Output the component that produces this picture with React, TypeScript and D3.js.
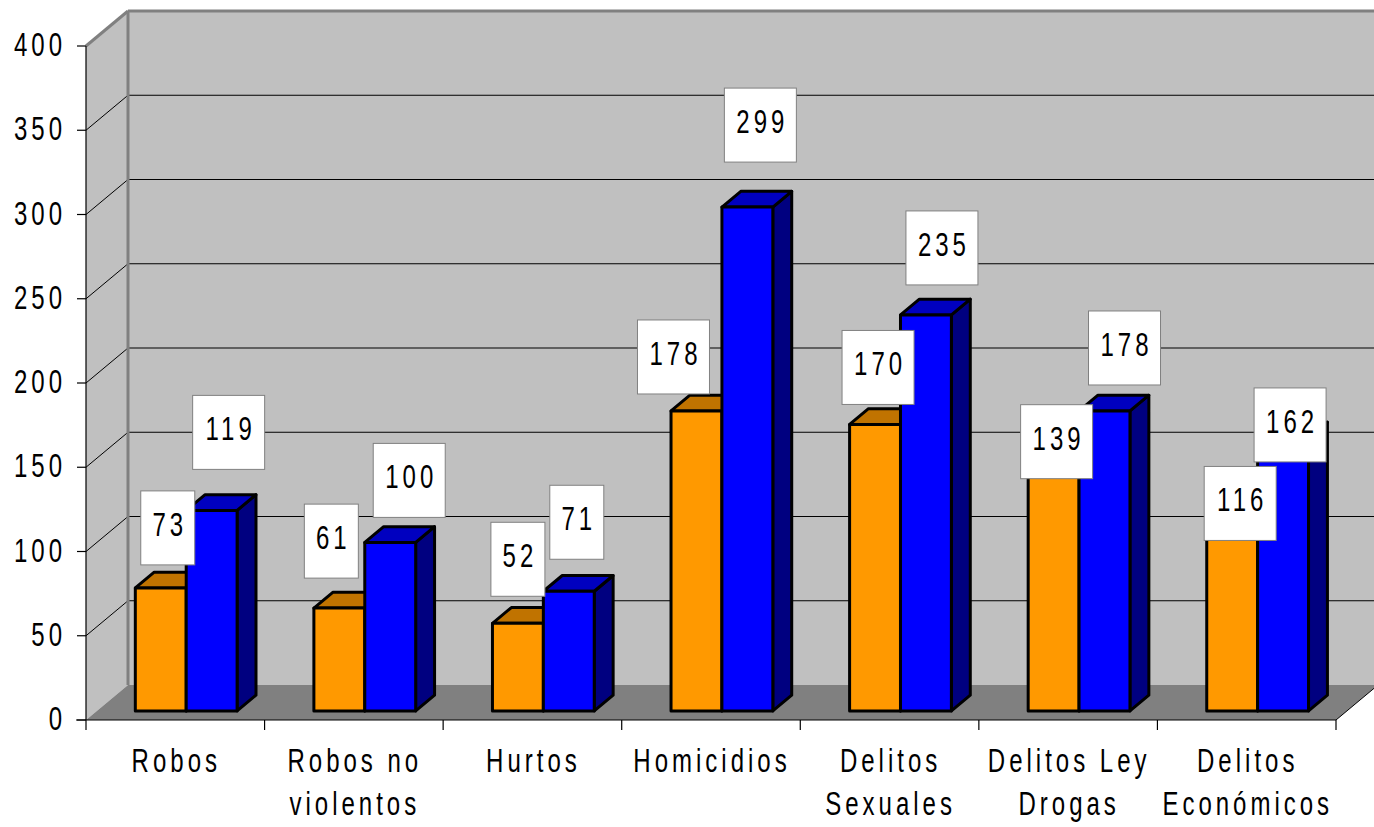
import * as d3 from "d3";

// categories, split into the two lines shown under the axis
const categoryLines: string[][] = [
  ["Robos"],
  ["Robos no", "violentos"],
  ["Hurtos"],
  ["Homicidios"],
  ["Delitos", "Sexuales"],
  ["Delitos Ley", "Drogas"],
  ["Delitos", "Económicos"],
];
const categories = categoryLines.map((l) => l.join(" "));

const orangeValues = [73, 61, 52, 178, 170, 139, 116];
const blueValues = [119, 100, 71, 299, 235, 178, 162];

// hand-placed data label offsets (from top centre of the bar front face)
const orangeLabelShift: [number, number][] = [
  [7, -60], [-8, -67], [0, -64], [-23, -54], [3, -57], [3, -35], [8, -12],
];
const blueLabelShift: [number, number][] = [
  [17, -78], [19, -62], [8, -69], [13, -82], [16, -67], [20, -63], [7, -13],
];

const W = 1374;
const H = 827;
const DX = 42; // depth offset of the back wall
const DY = 35;
const FRONT = 0.26; // bar depth range inside the floor
const BACK = 0.71;
const FONT = "'Liberation Sans', Arial, sans-serif";

const x = d3.scaleBand<string>().domain(categories).range([86, 1336]).padding(0);
const bw = x.bandwidth();
const inner = d3
  .scaleBand<string>()
  .domain(["orange", "blue"])
  .range([bw * 0.215, bw * 0.785]);
const y = d3.scaleLinear().domain([0, 400]).range([720, 46]);
const yTicks = y.ticks(8);

const colors = {
  orange: { front: "#FF9900", top: "#C07300", side: "#804C00" },
  blue: { front: "#0000FF", top: "#0000C0", side: "#000080" },
};

const pts = (p: [number, number][]) => p.map((d) => d.join(",")).join(" ");

function Label({ cx, cy, text }: { cx: number; cy: number; text: string }) {
  const w = text.length * 18 + 18;
  return (
    <g transform={`translate(${cx},${cy})`}>
      <rect x={-w / 2} y={-37} width={w} height={74} fill="#fff" stroke="#808080" strokeWidth={1} />
      <text
        transform="translate(2,8) scale(1,1.4)"
        textAnchor="middle"
        fontFamily={FONT}
        fontSize={24}
        letterSpacing={4}
        fill="#000"
      >
        {text}
      </text>
    </g>
  );
}

function Bar({ cat, key2, v }: { cat: string; key2: "orange" | "blue"; v: number }) {
  const x0 = x(cat)! + inner(key2)! + FRONT * DX;
  const x1 = x0 + inner.bandwidth();
  const yb = y(0) - FRONT * DY;
  const yt = y(v) - FRONT * DY;
  const ddx = (BACK - FRONT) * DX;
  const ddy = (BACK - FRONT) * DY;
  const c = colors[key2];
  const common = { stroke: "#000", strokeWidth: 3, strokeLinejoin: "round" as const };
  return (
    <g>
      <polygon
        points={pts([[x1, yt], [x1 + ddx, yt - ddy], [x1 + ddx, yb - ddy], [x1, yb]])}
        fill={c.side}
        {...common}
      />
      <polygon
        points={pts([[x0, yt], [x0 + ddx, yt - ddy], [x1 + ddx, yt - ddy], [x1, yt]])}
        fill={c.top}
        {...common}
      />
      <rect x={x0} y={yt} width={x1 - x0} height={yb - yt} fill={c.front} {...common} />
    </g>
  );
}

export default function App() {
  const x0 = x.range()[0];
  const x1 = x.range()[1];
  const yb = y(0);
  const yTop = y(400);

  const labels: { cx: number; cy: number; text: string }[] = [];
  categories.forEach((cat, i) => {
    (["orange", "blue"] as const).forEach((k) => {
      const v = k === "orange" ? orangeValues[i] : blueValues[i];
      const s = k === "orange" ? orangeLabelShift[i] : blueLabelShift[i];
      const cx = x(cat)! + inner(k)! + FRONT * DX + inner.bandwidth() / 2;
      const cy = y(v) - FRONT * DY;
      labels.push({ cx: cx + s[0], cy: cy + s[1], text: String(v) });
    });
  });

  return (
    <svg
      width={W}
      height={H}
      viewBox={`0 0 ${W} ${H}`}
      style={{ position: "absolute", left: 0, top: 0, background: "#fff" }}
    >
      {/* walls */}
      <polygon points={pts([[x0, yTop], [x0 + DX, yTop - DY], [x0 + DX, yb - DY], [x0, yb]])} fill="#C0C0C0" />
      <rect x={x0 + DX} y={yTop - DY} width={x1 - x0 + 10} height={yb - yTop} fill="#C0C0C0" />
      {/* gridlines */}
      {yTicks
        .filter((t) => t > 0 && t < 400)
        .map((t) => (
          <g key={t} stroke="#000" strokeWidth={1}>
            <line x1={x0} y1={y(t)} x2={x0 + DX} y2={y(t) - DY} />
            <line x1={x0 + DX} y1={y(t) - DY} x2={x1 + DX + 10} y2={y(t) - DY} />
          </g>
        ))}
      {/* wall borders */}
      <g stroke="#808080" strokeWidth={3} fill="none">
        <line x1={x0} y1={yTop} x2={x0 + DX} y2={yTop - DY} />
        <line x1={x0 + DX} y1={yTop - DY} x2={x1 + DX + 10} y2={yTop - DY} />
        <line x1={x0 + DX} y1={yTop - DY} x2={x0 + DX} y2={yb - DY} />
      </g>
      {/* floor */}
      <polygon points={pts([[x0, yb], [x1, yb], [x1 + DX, yb - DY], [x0 + DX, yb - DY]])} fill="#808080" />
      <line x1={x1} y1={yb} x2={x1 + DX} y2={yb - DY} stroke="#000" strokeWidth={1} />

      {/* axes */}
      <g stroke="#000" strokeWidth={1.2}>
        <line x1={x0} y1={yTop} x2={x0} y2={yb + 10} />
        <line x1={x0 - 10} y1={yb} x2={x1} y2={yb} />
        {yTicks.map((t) => (
          <line key={t} x1={x0 - 9} y1={y(t)} x2={x0} y2={y(t)} />
        ))}
        {categories.map((c) => (
          <line key={c} x1={x(c)! + bw} y1={yb} x2={x(c)! + bw} y2={yb + 10} />
        ))}
      </g>

      {/* bars */}
      {categories.map((cat, i) => (
        <g key={cat}>
          <Bar cat={cat} key2="orange" v={orangeValues[i]} />
          <Bar cat={cat} key2="blue" v={blueValues[i]} />
        </g>
      ))}

      {/* data labels */}
      {labels.map((l, i) => (
        <Label key={i} {...l} />
      ))}

      {/* y tick labels */}
      {yTicks.map((t) => (
        <text
          key={t}
          transform={`translate(66,${y(t) + 10}) scale(1,1.4)`}
          textAnchor="end"
          fontFamily={FONT}
          fontSize={24}
          letterSpacing={4}
          fill="#000"
        >
          {t}
        </text>
      ))}

      {/* category labels */}
      {categoryLines.map((lines, i) =>
        lines.map((ln, j) => (
          <text
            key={`${i}-${j}`}
            transform={`translate(${x(categories[i])! + bw / 2 + 1},${772 + j * 43}) scale(1,1.4)`}
            textAnchor="middle"
            fontFamily={FONT}
            fontSize={24}
            letterSpacing={4}
            fill="#000"
          >
            {ln}
          </text>
        ))
      )}
    </svg>
  );
}
